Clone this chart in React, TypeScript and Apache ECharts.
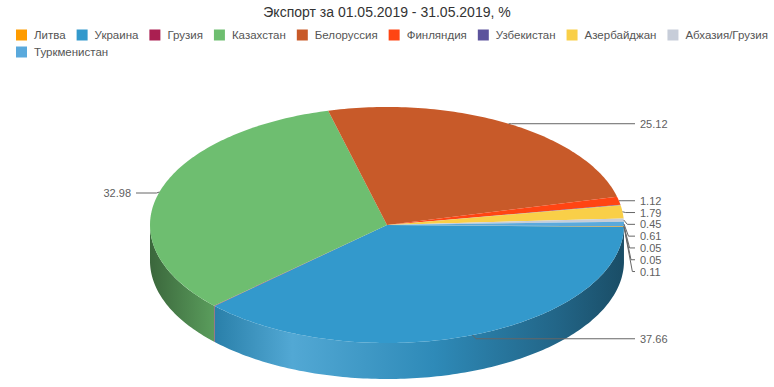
import React, { useEffect, useRef } from "react";
import * as echarts from "echarts";

const titleText = "Экспорт за 01.05.2019 - 31.05.2019, %";
const categories = [
  "Литва",
  "Украина",
  "Грузия",
  "Казахстан",
  "Белоруссия",
  "Финляндия",
  "Узбекистан",
  "Азербайджан",
  "Абхазия/Грузия",
  "Туркменистан",
];
const values = [0.11, 37.66, 0.05, 32.98, 25.12, 1.12, 0.05, 1.79, 0.45, 0.61];
const colors = [
  "#ff9c00",
  "#3399cc",
  "#aa1f51",
  "#6ebe70",
  "#c85a29",
  "#ff4513",
  "#5c539c",
  "#f9cf48",
  "#c7cdd9",
  "#5aa9dc",
];
// order of the value labels stacked on each side of the pie
const rightLabelOrder = [
  "Белоруссия",
  "Финляндия",
  "Азербайджан",
  "Абхазия/Грузия",
  "Туркменистан",
  "Узбекистан",
  "Грузия",
  "Литва",
  "Украина",
];
const leftLabelOrder = ["Казахстан"];

// layout of the 3D pie
const CX = 387;
const CY = 225;
const RX = 237;
const RY = 118;
const DEPTH = 36;
const START = 0.6; // degrees, clockwise from 3 o'clock
const LABEL_GAP = 11.8;
const FONT = "'Liberation Sans', Arial, sans-serif";

const total = values.reduce((a, b) => a + b, 0);

function pt(deg: number, dy = 0): number[] {
  const r = (deg * Math.PI) / 180;
  return [CX + RX * Math.cos(r), CY + RY * Math.sin(r) + dy];
}
function arc(a1: number, a2: number, dy: number): number[][] {
  const n = Math.max(1, Math.ceil(Math.abs(a2 - a1)));
  const out: number[][] = [];
  for (let k = 0; k <= n; k++) out.push(pt(a1 + ((a2 - a1) * k) / n, dy));
  return out;
}
function sliceAngles(i: number, v: number) {
  let before = 0;
  for (let k = 0; k < i; k++) before += values[k];
  const a1 = START + (before / total) * 360;
  const a2 = a1 + (v / total) * 360;
  return [a1, a2];
}
function shade(hex: string, f: number): string {
  const n = parseInt(hex.slice(1), 16);
  let r = (n >> 16) & 255,
    g = (n >> 8) & 255,
    b = n & 255;
  if (f <= 1) {
    r *= f;
    g *= f;
    b *= f;
  } else {
    const m = Math.min(1, (f - 1) * 2.5);
    r += (255 - r) * m;
    g += (255 - g) * m;
    b += (255 - b) * m;
  }
  return `rgb(${Math.round(r)},${Math.round(g)},${Math.round(b)})`;
}
const wallStops = [
  [0, 0.54],
  [0.143, 0.84],
  [0.3, 1.06],
  [0.6, 0.9],
  [0.86, 0.66],
  [1, 0.5],
];
function wallFill(color: string) {
  return {
    type: "linear",
    x: CX - RX,
    y: 0,
    x2: CX + RX,
    y2: 0,
    global: true,
    colorStops: wallStops.map(([o, f]) => ({ offset: o, color: shade(color, f) })),
  };
}

type LabelInfo = { pts: number[][]; x: number; y: number; align: string };
function buildLabels(): (LabelInfo | null)[] {
  const res: (LabelInfo | null)[] = values.map(() => null);
  let prev = -Infinity;
  rightLabelOrder.forEach((name) => {
    const i = categories.indexOf(name);
    const [a1, a2] = sliceAngles(i, values[i]);
    const mid = (a1 + a2) / 2;
    const onRight = Math.cos((mid * Math.PI) / 180) > 0;
    const A = onRight && values[i] >= 0.1 ? pt(mid) : pt(START);
    // labels in the lower half sit a little below their anchor
    const drop = Math.max(0, Math.sin((mid * Math.PI) / 180)) * 4;
    const y = Math.max(A[1] + drop, prev + LABEL_GAP);
    prev = y;
    const bx = A[0] + 3 + (y - A[1]) * 0.12;
    const endX = CX + RX + 11;
    res[i] = { pts: [A, [bx, y], [endX, y]], x: endX + 5, y, align: "left" };
  });
  leftLabelOrder.forEach((name) => {
    const i = categories.indexOf(name);
    const [a1, a2] = sliceAngles(i, values[i]);
    const A = pt((a1 + a2) / 2);
    const endX = CX - RX - 14;
    res[i] = { pts: [A, [A[0] - 3, A[1] + 1], [endX, A[1] + 1]], x: endX - 5, y: A[1] + 1, align: "right" };
  });
  return res;
}

export default function App() {
  const ref = useRef<HTMLDivElement>(null);
  useEffect(() => {
    document.body.style.margin = "0";
    if (!ref.current) return;
    const chart = echarts.init(ref.current, undefined, { renderer: "svg" });
    const labels = buildLabels();
    const series = categories.map((name, i) => ({
      type: "custom",
      name,
      coordinateSystem: "none",
      itemStyle: { color: colors[i] },
      data: [{ name, value: values[i] }],
      renderItem: (_params: any, api: any) => {
        const v = api.value(0) as number;
        const [a1, a2] = sliceAngles(i, v);
        const children: any[] = [];
        for (const [lo, hi] of [
          [0, 180],
          [360, 540],
        ]) {
          const s = Math.max(a1, lo);
          const e = Math.min(a2, hi);
          if (e > s) {
            children.push({
              type: "polygon",
              z2: 1,
              shape: { points: [...arc(s, e, 0), ...arc(e, s, DEPTH)] },
              style: { fill: wallFill(colors[i]) },
            });
          }
        }
        children.push({
          type: "polygon",
          z2: 5,
          shape: { points: [[CX, CY], ...arc(a1, a2, 0)] },
          style: { fill: colors[i] },
        });
        const lb = labels[i];
        if (lb) {
          children.push({
            type: "polyline",
            z2: 10,
            shape: { points: lb.pts },
            style: { stroke: "#666666", lineWidth: 1, fill: null },
          });
          children.push({
            type: "text",
            z2: 10,
            style: {
              text: v.toFixed(2),
              x: lb.x,
              y: lb.y,
              align: lb.align,
              verticalAlign: "middle",
              fill: "#606060",
              fontSize: 11,
              fontFamily: FONT,
            },
          });
        }
        return { type: "group", children };
      },
    }));
    const legendBase = {
      left: 16,
      width: 770,
      padding: 0,
      itemWidth: 11,
      itemHeight: 11,
      itemGap: 11,
      icon: "rect",
      selectedMode: false,
      textStyle: { fontSize: 11.5, color: "#555555", fontFamily: FONT, padding: [0, 0, 0, 2] },
    };
    chart.setOption({
      animation: false,
      backgroundColor: "#ffffff",
      color: colors,
      title: {
        text: titleText,
        left: "center",
        top: 5,
        padding: 0,
        textStyle: { fontSize: 14, fontWeight: "normal", color: "#333333", fontFamily: FONT },
      },
      legend: [
        { ...legendBase, top: 29, data: categories.slice(0, 9) },
        { ...legendBase, top: 46, data: categories.slice(9) },
      ],
      series,
    });
    return () => chart.dispose();
  }, []);
  return <div ref={ref} style={{ width: 774, height: 387 }} />;
}
